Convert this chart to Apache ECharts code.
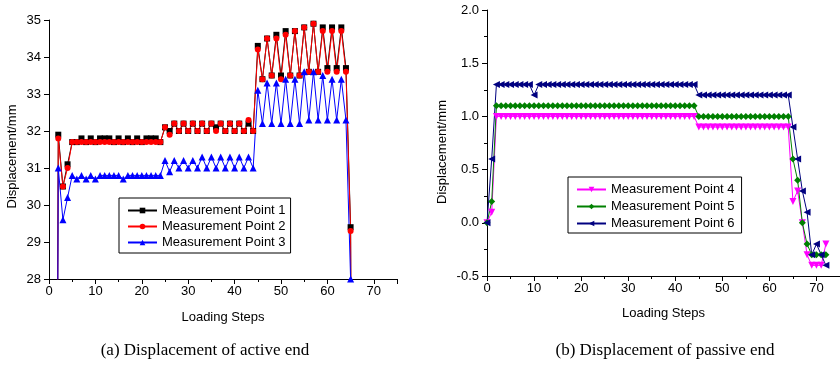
<!DOCTYPE html>
<html>
<head>
<meta charset="utf-8">
<script src="https://cdn.jsdelivr.net/npm/echarts@6/dist/echarts.min.js"></script>
<style>
  html, body { margin: 0; padding: 0; background: #fff; }
  #chart { width: 840px; height: 366px; }
</style>
</head>
<body>
<div id="chart"></div>
<script>
// (a) active end, loading steps 1..66
const stepsA = [
  1, 2, 3, 4, 5, 6, 7, 8, 9, 10,
  11, 12, 13, 14, 15, 16, 17, 18, 19, 20,
  21, 22, 23, 24, 25, 26, 27, 28, 29, 30,
  31, 32, 33, 34, 35, 36, 37, 38, 39, 40,
  41, 42, 43, 44, 45, 46, 47, 48, 49, 50,
  51, 52, 53, 54, 55, 56, 57, 58, 59, 60,
  61, 62, 63, 64, 65, 66
]
const point1 = [
  0, 31.9, 30.5, 31.1, 31.7, 31.7, 31.8, 31.7, 31.8, 31.7,
  31.8, 31.8, 31.8, 31.7, 31.8, 31.7, 31.8, 31.7, 31.8, 31.7,
  31.8, 31.8, 31.8, 31.7, 32.1, 32.0, 32.2, 32.0, 32.2, 32.0,
  32.2, 32.0, 32.2, 32.0, 32.2, 32.1, 32.2, 32.0, 32.2, 32.0,
  32.2, 32.0, 32.2, 32.0, 34.3, 33.4, 34.5, 33.5, 34.6, 33.5,
  34.7, 33.5, 34.7, 33.5, 34.8, 33.6, 34.9, 33.6, 34.8, 33.7,
  34.8, 33.7, 34.8, 33.7, 29.4, 0
]
const point2 = [
  0, 31.8, 30.5, 31.0, 31.7, 31.7, 31.7, 31.7, 31.7, 31.7,
  31.7, 31.7, 31.7, 31.7, 31.7, 31.7, 31.7, 31.7, 31.7, 31.7,
  31.7, 31.7, 31.7, 31.7, 32.1, 31.9, 32.2, 32.0, 32.2, 32.0,
  32.2, 32.0, 32.2, 32.0, 32.2, 32.0, 32.2, 32.0, 32.2, 32.0,
  32.2, 32.0, 32.3, 32.0, 34.2, 33.4, 34.5, 33.5, 34.5, 33.4,
  34.6, 33.5, 34.7, 33.5, 34.8, 33.6, 34.9, 33.6, 34.7, 33.6,
  34.7, 33.6, 34.7, 33.6, 29.3, 0
]
const point3 = [
  0, 31.0, 29.6, 30.2, 30.8, 30.7, 30.8, 30.7, 30.8, 30.7,
  30.8, 30.8, 30.8, 30.8, 30.8, 30.7, 30.8, 30.8, 30.8, 30.8,
  30.8, 30.8, 30.8, 30.8, 31.2, 30.9, 31.2, 31.0, 31.2, 31.0,
  31.2, 31.0, 31.3, 31.0, 31.3, 31.0, 31.3, 31.0, 31.3, 31.0,
  31.3, 31.0, 31.3, 31.0, 33.1, 32.2, 33.3, 32.2, 33.3, 32.2,
  33.4, 32.2, 33.4, 32.2, 33.6, 32.3, 33.6, 32.3, 33.5, 32.3,
  33.4, 32.3, 33.4, 32.3, 28.0, 0
]

// (b) passive end, loading steps 0..72
const stepsB = [
  0, 1, 2, 3, 4, 5, 6, 7, 8, 9,
  10, 11, 12, 13, 14, 15, 16, 17, 18, 19,
  20, 21, 22, 23, 24, 25, 26, 27, 28, 29,
  30, 31, 32, 33, 34, 35, 36, 37, 38, 39,
  40, 41, 42, 43, 44, 45, 46, 47, 48, 49,
  50, 51, 52, 53, 54, 55, 56, 57, 58, 59,
  60, 61, 62, 63, 64, 65, 66, 67, 68, 69,
  70, 71, 72
]
const point4 = [
  0, 0.1, 1.0, 1.0, 1.0, 1.0, 1.0, 1.0, 1.0, 1.0,
  1.0, 1.0, 1.0, 1.0, 1.0, 1.0, 1.0, 1.0, 1.0, 1.0,
  1.0, 1.0, 1.0, 1.0, 1.0, 1.0, 1.0, 1.0, 1.0, 1.0,
  1.0, 1.0, 1.0, 1.0, 1.0, 1.0, 1.0, 1.0, 1.0, 1.0,
  1.0, 1.0, 1.0, 1.0, 1.0, 0.9, 0.9, 0.9, 0.9, 0.9,
  0.9, 0.9, 0.9, 0.9, 0.9, 0.9, 0.9, 0.9, 0.9, 0.9,
  0.9, 0.9, 0.9, 0.9, 0.9, 0.2, 0.3, 0.0, -0.3, -0.4,
  -0.4, -0.4, -0.2
]
const point5 = [
  0, 0.2, 1.1, 1.1, 1.1, 1.1, 1.1, 1.1, 1.1, 1.1,
  1.1, 1.1, 1.1, 1.1, 1.1, 1.1, 1.1, 1.1, 1.1, 1.1,
  1.1, 1.1, 1.1, 1.1, 1.1, 1.1, 1.1, 1.1, 1.1, 1.1,
  1.1, 1.1, 1.1, 1.1, 1.1, 1.1, 1.1, 1.1, 1.1, 1.1,
  1.1, 1.1, 1.1, 1.1, 1.1, 1.0, 1.0, 1.0, 1.0, 1.0,
  1.0, 1.0, 1.0, 1.0, 1.0, 1.0, 1.0, 1.0, 1.0, 1.0,
  1.0, 1.0, 1.0, 1.0, 1.0, 0.6, 0.4, 0.0, -0.2, -0.3,
  -0.3, -0.3, -0.3
]
const point6 = [
  0, 0.6, 1.3, 1.3, 1.3, 1.3, 1.3, 1.3, 1.3, 1.3,
  1.2, 1.3, 1.3, 1.3, 1.3, 1.3, 1.3, 1.3, 1.3, 1.3,
  1.3, 1.3, 1.3, 1.3, 1.3, 1.3, 1.3, 1.3, 1.3, 1.3,
  1.3, 1.3, 1.3, 1.3, 1.3, 1.3, 1.3, 1.3, 1.3, 1.3,
  1.3, 1.3, 1.3, 1.3, 1.3, 1.2, 1.2, 1.2, 1.2, 1.2,
  1.2, 1.2, 1.2, 1.2, 1.2, 1.2, 1.2, 1.2, 1.2, 1.2,
  1.2, 1.2, 1.2, 1.2, 1.2, 0.9, 0.6, 0.3, 0.1, -0.3,
  -0.2, -0.3, -0.4
]

const font = "Liberation Sans, Arial, sans-serif"
const pair = (xs, ys) => xs.map((x, i) => [x, ys[i]])

const axisCommon = {
  axisLine: { show: true, onZero: false, lineStyle: { color: "#000", width: 1 } },
  axisTick: { show: true, inside: false, length: 5, lineStyle: { color: "#000" } },
  axisLabel: { color: "#000", fontSize: 13, fontFamily: font },
  splitLine: { show: false },
  nameTextStyle: { color: "#000", fontSize: 13, fontFamily: font },
}

function lineSeries(name, data, xi, color, symbol, size, rotate) {
  return {
    name,
    type: "line",
    xAxisIndex: xi,
    yAxisIndex: xi,
    data,
    symbol,
    symbolSize: size,
    symbolRotate: rotate || 0,
    lineStyle: { color, width: 1 },
    itemStyle: { color },
    clip: true,
  }
}

const legendCommon = {
  orient: "vertical",
  backgroundColor: "#fff",
  borderColor: "#000",
  borderWidth: 1,
  borderRadius: 0,
  itemWidth: 29,
  itemHeight: 7,
  itemGap: 3,
  textStyle: { color: "#000", fontSize: 13, fontFamily: font },
}

const chart = echarts.init(document.getElementById("chart"))
chart.setOption({
  animation: false,
  backgroundColor: "#fff",
  grid: [
    { left: 49, top: 20, width: 348, height: 259 },
    { left: 487, top: 10, width: 356, height: 266 },
  ],
  xAxis: [
    {
      ...axisCommon,
      type: "value", gridIndex: 0, min: 0, max: 75, interval: 10,
      minorTick: { show: true, splitNumber: 2, length: 3, lineStyle: { color: "#000" } },
      name: "Loading Steps", nameLocation: "middle", nameGap: 32,
      axisLabel: { ...axisCommon.axisLabel, margin: 6, showMaxLabel: false },
    },
    {
      ...axisCommon,
      type: "value", gridIndex: 1, min: 0, max: 75, interval: 10,
      minorTick: { show: true, splitNumber: 2, length: 3, lineStyle: { color: "#000" } },
      name: "Loading Steps", nameLocation: "middle", nameGap: 31,
      axisLabel: { ...axisCommon.axisLabel, margin: 6, showMaxLabel: false },
    },
  ],
  yAxis: [
    {
      ...axisCommon,
      type: "value", gridIndex: 0, min: 28, max: 35, interval: 1,
      name: "Displacement/mm", nameLocation: "middle", nameGap: 30,
      nameTextStyle: { ...axisCommon.nameTextStyle, padding: [0, 14, 0, 0] },
      axisLabel: { ...axisCommon.axisLabel, margin: 8 },
    },
    {
      ...axisCommon,
      type: "value", gridIndex: 1, min: -0.5, max: 2.0, interval: 0.5,
      minorTick: { show: true, splitNumber: 2, length: 3, lineStyle: { color: "#000" } },
      name: "Displacement/mm", nameLocation: "middle", nameGap: 38,
      nameTextStyle: { ...axisCommon.nameTextStyle, padding: [0, 18, 0, 0] },
      axisLabel: { ...axisCommon.axisLabel, margin: 8, formatter: (v) => v.toFixed(1) },
    },
  ],
  legend: [
    {
      ...legendCommon,
      left: 119, top: 198,
      padding: [6, 5, 4, 8],
      data: ["Measurement Point 1", "Measurement Point 2", "Measurement Point 3"],
    },
    {
      ...legendCommon,
      left: 568, top: 177,
      itemGap: 4,
      padding: [6, 7, 3, 8],
      data: ["Measurement Point 4", "Measurement Point 5", "Measurement Point 6"],
    },
  ],
  series: [
    lineSeries("Measurement Point 1", pair(stepsA, point1), 0, "#000000", "rect", 6),
    lineSeries("Measurement Point 2", pair(stepsA, point2), 0, "#ff0000", "circle", 6),
    lineSeries("Measurement Point 3", pair(stepsA, point3), 0, "#0000ff", "triangle", 7),
    lineSeries("Measurement Point 4", pair(stepsB, point4), 1, "#ff00ff", "triangle", 7, 180),
    lineSeries("Measurement Point 5", pair(stepsB, point5), 1, "#008000", "diamond", 7),
    lineSeries("Measurement Point 6", pair(stepsB, point6), 1, "#000080", "triangle", 7, 90),
  ],
  graphic: [
    {
      type: "text", x: 205, y: 351,
      style: {
        text: "(a) Displacement of active end",
        fill: "#000", font: "17px 'Liberation Serif', 'Times New Roman', serif",
        textAlign: "center", textVerticalAlign: "middle",
      },
    },
    {
      type: "text", x: 665, y: 351,
      style: {
        text: "(b) Displacement of passive end",
        fill: "#000", font: "17px 'Liberation Serif', 'Times New Roman', serif",
        textAlign: "center", textVerticalAlign: "middle",
      },
    },
  ],
})
</script>
</body>
</html>
